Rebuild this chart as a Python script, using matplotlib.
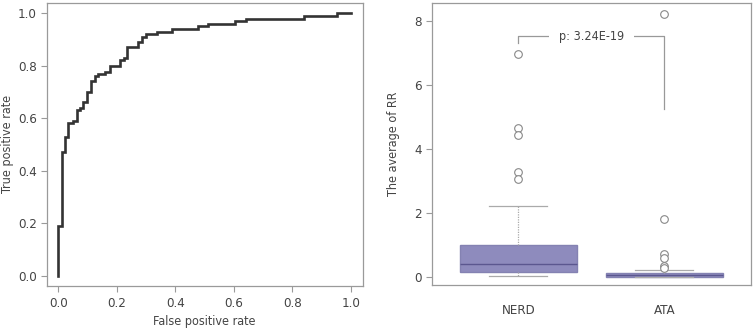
import matplotlib
matplotlib.use("Agg")
import matplotlib.pyplot as plt
from matplotlib import font_manager

# ---------------- data ----------------
fpr = [0.0, 0.0, 0.011, 0.023, 0.034, 0.051, 0.063, 0.074, 0.085, 0.099, 0.11, 0.125,
       0.137, 0.159, 0.177, 0.21, 0.224, 0.236, 0.273, 0.285, 0.298, 0.336, 0.387,
       0.478, 0.513, 0.604, 0.641, 0.839, 0.953, 1.0]
tpr = [0.0, 0.19, 0.47, 0.53, 0.58, 0.59, 0.63, 0.64, 0.66, 0.70, 0.74, 0.76,
       0.77, 0.775, 0.80, 0.82, 0.83, 0.87, 0.89, 0.91, 0.92, 0.93, 0.94,
       0.95, 0.96, 0.97, 0.98, 0.99, 1.0, 1.0]

groups = ["NERD", "ATA"]
q1 = [0.16, 0.01]
median = [0.40, 0.05]
q3 = [0.99, 0.13]
whisker_lo = [0.02, 0.0]
whisker_hi = [2.2, 0.21]
outliers = [[6.97, 4.65, 4.42, 3.27, 3.06],
            [8.2, 1.81, 0.72, 0.58, 0.33, 0.27]]
p_text = "p: 3.24E-19"

# ---------------- fonts ----------------
cond = None
for f in font_manager.fontManager.ttflist:
    st = str(f.stretch).lower()
    if ("condensed" in st or "narrow" in f.name.lower() or "condensed" in f.name.lower()) \
            and f.style == "normal" and f.weight in (400, "normal", "regular"):
        if f.name.startswith("Liberation") or cond is None:
            cond = f
if cond is not None:
    plt.rcParams["font.family"] = [cond.name, "DejaVu Sans"]
    plt.rcParams["font.stretch"] = cond.stretch
    FS = 9.5
else:
    plt.rcParams["font.family"] = ["Roboto", "DejaVu Sans"]
    FS = 8.5

W, H = 755, 330
fig = plt.figure(figsize=(W / 100, H / 100), dpi=100)

spine_c = "#9a9a9a"
text_c = "#444444"

def ax_rect(l, r, t, b):
    return [l / W, 1 - b / H, (r - l) / W, (b - t) / H]

# ---------------- left: ROC ----------------
L1, R1, T1, B1 = 46.6, 362.7, 2.8, 286
ax1 = fig.add_axes(ax_rect(L1, R1, T1, B1))
ax1.plot(fpr, tpr, drawstyle="steps-post", color="#333333", lw=1.9,
         solid_joinstyle="miter")
ax1.set_xlim(-0.04, 1.04)
ax1.set_ylim(-0.04, 1.04)
ax1.set_xticks([0, 0.2, 0.4, 0.6, 0.8, 1.0])
ax1.set_yticks([0, 0.2, 0.4, 0.6, 0.8, 1.0])
ax1.set_xticklabels(["0.0", "0.2", "0.4", "0.6", "0.8", "1.0"])
ax1.set_yticklabels(["0.0", "0.2", "0.4", "0.6", "0.8", "1.0"])
ax1.set_xlabel("False positive rate", fontsize=FS - 0.5, color=text_c, va="center")
ax1.set_ylabel("True positive rate", fontsize=FS - 0.5, color=text_c, va="center")
ax1.xaxis.set_label_coords(0.5, (B1 - 321.7) / (B1 - T1))
ax1.yaxis.set_label_coords((7.5 - L1) / (R1 - L1), 0.5)

# ---------------- right: boxplot ----------------
L2, R2, T2, B2 = 431.7, 751, 2.7, 285
ax2 = fig.add_axes(ax_rect(L2, R2, T2, B2))
stats = []
for i, g in enumerate(groups):
    stats.append(dict(label=g, q1=q1[i], med=median[i], q3=q3[i],
                      whislo=whisker_lo[i], whishi=whisker_hi[i],
                      fliers=outliers[i]))
ax2.bxp(stats, positions=[1, 2], widths=0.8, patch_artist=True,
        boxprops=dict(facecolor="#8e8bbd", edgecolor="#8482b2", lw=1.0),
        medianprops=dict(color="#5b578f", lw=1.0),
        whiskerprops=dict(color="#aaaaaa", lw=0.9, linestyle=(0, (1, 1))),
        capprops=dict(color="#aaaaaa", lw=0.9),
        capwidths=0.4,
        flierprops=dict(marker="o", markerfacecolor="white",
                        markeredgecolor="#888888", markersize=5.5, mew=0.8))
ax2.set_xlim(0.407, 2.594)
ax2.set_ylim(-0.25, 8.56)
ax2.set_yticks([0, 2, 4, 6, 8])
ax2.set_ylabel("The average of RR", fontsize=FS - 0.5, color=text_c, va="center")
ax2.yaxis.set_label_coords((394 - L2) / (R2 - L2), 0.5)
ax2.tick_params(axis="x", length=0, pad=14)

# significance bracket
ax2.plot([1, 1, 2, 2], [7.31, 7.52, 7.52, 5.23], color="#999999", lw=0.9)
ax2.text(1.5, 7.52, p_text, ha="center", va="center", fontsize=FS - 0.5, color=text_c,
         bbox=dict(facecolor="white", edgecolor="none", pad=7))

for ax in (ax1, ax2):
    for s in ax.spines.values():
        s.set_color(spine_c)
        s.set_linewidth(0.9)
    ax.tick_params(colors=spine_c, labelcolor=text_c, labelsize=FS,
                   width=0.8)
    ax.tick_params(axis="y", length=4, pad=3)
ax1.tick_params(axis="x", length=4, pad=4)

fig.savefig("out.png", dpi=100)
